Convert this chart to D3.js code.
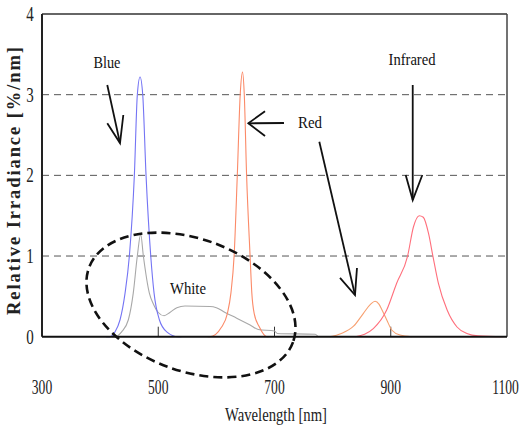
<!DOCTYPE html>
<html><head><meta charset="utf-8">
<script src="https://cdn.jsdelivr.net/npm/d3@7"></script>
<style>html,body{margin:0;padding:0;background:#fff;}svg{display:block;}</style>
</head><body>
<svg id="chart" width="522" height="428"></svg>
<script>
// ---- data ----
const xTicks = [300, 500, 700, 900, 1100];
const yTicks = [0, 1, 2, 3, 4];
const gridValues = [1, 2, 3];
const innerTicks = [500, 700, 900];

const blueNm  = [410, 417, 425.6, 434.3, 442.9, 450.3, 458.9, 464, 468.7, 473.3, 479, 487.1, 492.8, 501.9, 514.6, 534, 540];
const blueVal = [0, 0, 0.06, 0.21, 0.54, 1.0, 2.0, 3.0, 3.22, 3.0, 2.0, 1.0, 0.54, 0.21, 0.06, 0, 0];

const whiteNm  = [420, 425.6, 437, 448.6, 457, 464, 469.8, 474.4, 484.7, 492, 500, 510, 520, 532, 546, 589, 600, 615, 635, 658, 672, 700, 705, 770, 775];
const whiteVal = [0, 0, 0.06, 0.21, 0.54, 1.0, 1.27, 1.0, 0.54, 0.4, 0.3, 0.26, 0.3, 0.36, 0.38, 0.375, 0.36, 0.3, 0.23, 0.145, 0.09, 0.07, 0.04, 0.03, 0];

const redNm  = [585, 589, 609, 619, 625, 630.5, 636, 641, 645, 648, 652, 658, 661, 665, 674, 687, 690];
const redVal = [0, 0, 0.12, 0.29, 0.54, 1.0, 2.0, 3.0, 3.28, 3.0, 2.0, 1.0, 0.54, 0.29, 0.12, 0, 0];

const red2Nm  = [795, 815, 836, 853, 865, 873, 880, 885, 893, 902, 916, 936];
const red2Val = [0, 0.04, 0.13, 0.29, 0.4, 0.44, 0.4, 0.33, 0.21, 0.08, 0.02, 0];

const irNm  = [839, 855, 870, 893, 910, 929, 939, 949, 956, 965, 972.5, 982, 997, 1014, 1031, 1050, 1094];
const irVal = [0, 0.03, 0.1, 0.33, 0.66, 1.0, 1.36, 1.5, 1.48, 1.28, 1.0, 0.66, 0.33, 0.12, 0.04, 0.01, 0];

// annotation labels [text, nm, value]
const labelText = ["Blue", "Red", "Infrared", "White"];
const labelNm   = [411.8, 761.1, 936.6, 551.2];
const labelVal  = [3.33, 2.583, 3.368, 0.529];

// arrows: start, tip, wing1, wing2 in [nm, value]
const arrowStart = [[412.3, 3.12], [716.3, 2.649], [777.1, 2.417], [937.8, 3.12]];
const arrowTip   = [[434.2, 2.40], [655, 2.645], [838.5, 0.517], [937.8, 1.694]];
const arrowWingA = [[412.3, 2.645], [683.7, 2.795], [812.7, 0.728], [925.7, 2.004]];
const arrowWingB = [[439.9, 2.748], [683.7, 2.488], [841.9, 0.852], [954.3, 2.004]];

const ellipseCenter = [556.3, 0.393];

// ---- layout ----
const L = 42, R = 507, T = 14, B = 336.7;
const svg = d3.select("#chart");
const x = d3.scaleLinear().domain([300, 1100]).range([L, R]);
const y = d3.scaleLinear().domain([0, 4]).range([B, T]);
const serif = "'Liberation Serif', 'Times New Roman', serif";

// gridlines
svg.append("g").selectAll("line").data(gridValues).join("line")
  .attr("x1", x(300)).attr("x2", x(1100))
  .attr("y1", d => y(d)).attr("y2", d => y(d))
  .attr("stroke", "#555").attr("stroke-width", 1).attr("stroke-dasharray", "7,5");

// frame: top & right
svg.append("line").attr("x1", x(300)).attr("x2", x(1100)).attr("y1", y(4)).attr("y2", y(4))
  .attr("stroke", "#333").attr("stroke-width", 1.5);
svg.append("line").attr("x1", x(1100)).attr("x2", x(1100)).attr("y1", y(4)).attr("y2", y(0))
  .attr("stroke", "#444").attr("stroke-width", 1.5);

// inner ticks
svg.append("g").selectAll("line").data(innerTicks).join("line")
  .attr("x1", d => x(d)).attr("x2", d => x(d))
  .attr("y1", y(0)).attr("y2", y(0) - 10)
  .attr("stroke", "#333").attr("stroke-width", 1);

// curves
const line = d3.line().x(d => x(d[0])).y(d => y(d[1])).curve(d3.curveMonotoneX);
const series = [
  [whiteNm, whiteVal, "#a8a8a8"],
  [blueNm, blueVal, "#7474f4"],
  [redNm, redVal, "#fb8a68"],
  [red2Nm, red2Val, "#f7a070"],
  [irNm, irVal, "#ff6f7c"]
];
series.forEach(([nm, v, c]) => {
  svg.append("path").datum(d3.zip(nm, v)).attr("d", line)
    .attr("fill", "none").attr("stroke", c).attr("stroke-width", 1.1);
});

// axes lines
svg.append("line").attr("x1", x(300)).attr("x2", x(300)).attr("y1", y(4)).attr("y2", y(0))
  .attr("stroke", "#222").attr("stroke-width", 2);
svg.append("line").attr("x1", x(300)).attr("x2", x(1100)).attr("y1", y(0)).attr("y2", y(0))
  .attr("stroke", "#111").attr("stroke-width", 2);

// dashed ellipse
svg.append("ellipse")
  .attr("transform", `translate(${x(ellipseCenter[0])},${y(ellipseCenter[1])}) rotate(20)`)
  .attr("rx", 108.6).attr("ry", 66.1)
  .attr("fill", "none").attr("stroke", "#111").attr("stroke-width", 2.6)
  .attr("stroke-dasharray", "9,5");

// arrows
const arrowG = svg.append("g").attr("stroke", "#111").attr("stroke-width", 1.8).attr("fill", "none");
arrowStart.forEach((s, i) => {
  const t = arrowTip[i], a = arrowWingA[i], b = arrowWingB[i];
  arrowG.append("line").attr("x1", x(s[0])).attr("y1", y(s[1])).attr("x2", x(t[0])).attr("y2", y(t[1]));
  arrowG.append("polyline")
    .attr("points", [a, t, b].map(p => `${x(p[0])},${y(p[1])}`).join(" "));
});

// annotation labels
const labelLen = [27, 24, 47, 36];
labelText.forEach((t, i) => {
  svg.append("text").attr("x", x(labelNm[i])).attr("y", y(labelVal[i]))
    .attr("text-anchor", "middle").attr("font-family", serif).attr("font-size", 17)
    .attr("fill", "#111")
    .attr("textLength", labelLen[i]).attr("lengthAdjust", "spacingAndGlyphs")
    .text(t);
});

// x tick labels (horizontally condensed)
svg.append("g").selectAll("text").data(xTicks).join("text")
  .attr("transform", d => `translate(${d === 1100 ? x(d) - 1.5 : x(d)},394) scale(0.68,1)`)
  .attr("text-anchor", "middle").attr("font-family", serif).attr("font-size", 20)
  .attr("fill", "#222")
  .text(d => d);

// y tick labels
svg.append("g").selectAll("text").data(yTicks).join("text")
  .attr("transform", d => `translate(30,${y(d)}) scale(0.75,1)`).attr("dy", "0.35em")
  .attr("text-anchor", "middle").attr("font-family", serif).attr("font-size", 20)
  .attr("fill", "#222")
  .text(d => d);

// axis titles
svg.append("text").attr("x", 276).attr("y", 421)
  .attr("text-anchor", "middle").attr("font-family", serif).attr("font-size", 18)
  .attr("fill", "#222")
  .attr("textLength", 102).attr("lengthAdjust", "spacingAndGlyphs")
  .text("Wavelength [nm]");
svg.append("text").attr("transform", "translate(20,181) rotate(-90)")
  .attr("text-anchor", "middle").attr("font-family", serif).attr("font-size", 18.5)
  .attr("font-weight", "bold").attr("fill", "#222")
  .attr("textLength", 268).attr("lengthAdjust", "spacing")
  .text("Relative Irradiance [%/nm]");
</script>
</body></html>
